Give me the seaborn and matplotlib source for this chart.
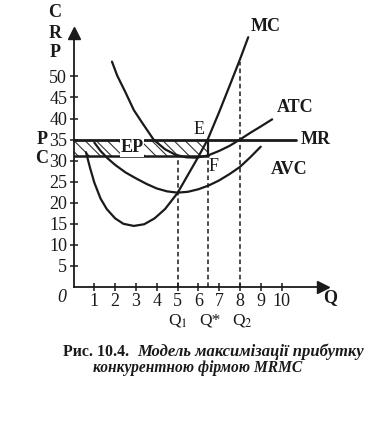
import matplotlib
matplotlib.use('Agg')
import matplotlib.pyplot as plt
import seaborn as sns
import pandas as pd
from matplotlib.patches import Rectangle

# ---- data ----
mc_q = [0.6, 0.8, 1.0, 1.3, 1.6, 2.0, 2.4, 2.9, 3.4, 3.9, 4.4, 5.0, 5.5, 6.0, 6.45, 7.0, 7.5, 8.0, 8.4]
mc_v = [32, 28.2, 24.8, 21, 18.5, 16.3, 15, 14.5, 14.9, 16.3, 18.5, 22.3, 26.6, 30.9, 35, 41.5, 47.7, 54, 59.3]
atc_q = [1.85, 2.1, 2.5, 2.9, 3.3, 3.85, 4.4, 4.9, 5.4, 5.9, 6.45, 7.0, 7.5, 8.0, 8.5, 9.0, 9.55]
atc_v = [53.5, 50.2, 46.2, 42, 39, 35, 32.7, 31.4, 30.8, 30.7, 31.2, 32.3, 33.5, 35, 36.6, 38.1, 39.8]
avc_q = [1.0, 1.3, 1.65, 2.0, 2.5, 3.0, 3.5, 4.0, 4.5, 5.0, 5.5, 6.0, 6.5, 7.0, 7.5, 8.0, 8.5, 9.0]
avc_v = [34.3, 32.3, 30.5, 29, 27.2, 25.8, 24.5, 23.4, 22.7, 22.4, 22.6, 23.2, 24.1, 25.3, 26.8, 28.5, 30.8, 33.3]
price = 35          # P = MR
cost = 31           # C = ATC at Q*
mr_end = 10.7
q1, q_star, q2 = 5, 6.45, 8
q2_top = 53.5
x_ticks = [1, 2, 3, 4, 5, 6, 7, 8, 9, 10]
y_ticks = [5, 10, 15, 20, 25, 30, 35, 40, 45, 50]

sns.set_theme(style='white')
plt.rcParams['font.family'] = ['Liberation Serif', 'DejaVu Serif']
plt.rcParams['mathtext.fontset'] = 'stix'
plt.rcParams['hatch.linewidth'] = 0.8
plt.rcParams['hatch.color'] = '#333333'

fig = plt.figure(figsize=(3.85, 4.21), dpi=100)
fig.patch.set_facecolor('white')
ax = fig.add_axes([73.5 / 385, 134 / 421, 249.6 / 385, 254 / 421])
ax.set_facecolor('white')
ax.set_xlim(0, 12)
ax.set_ylim(0, 60.3)

curves = pd.concat([
    pd.DataFrame({'Q': mc_q, 'V': mc_v, 'curve': 'MC'}),
    pd.DataFrame({'Q': atc_q, 'V': atc_v, 'curve': 'ATC'}),
    pd.DataFrame({'Q': avc_q, 'V': avc_v, 'curve': 'AVC'}),
])
sns.lineplot(data=curves, x='Q', y='V', units='curve', estimator=None,
             color='#1a1a1a', lw=1.6, ax=ax, legend=False, clip_on=False)

# profit rectangle
ax.add_patch(Rectangle((0, cost), q_star, price - cost, facecolor='none',
                       edgecolor='#333333', hatch='\\\\\\', lw=0))
ax.plot([0, mr_end], [price, price], color='#1a1a1a', lw=2.0, clip_on=False)
ax.plot([0, q_star], [cost, cost], color='#1a1a1a', lw=1.8)
ax.plot([q_star, q_star], [cost, price], color='#1a1a1a', lw=1.6)

# dashed verticals
for q, top in [(q1, cost), (q_star, cost), (q2, q2_top)]:
    ax.plot([q, q], [0, top], color='#1a1a1a', lw=1.1, ls=(0, (3, 2)))

# axes
for s in ['top', 'right']:
    ax.spines[s].set_visible(False)
for s in ['left', 'bottom']:
    ax.spines[s].set_color('#1a1a1a')
    ax.spines[s].set_linewidth(1.3)
ax.plot(1, 0, '>', color='#1a1a1a', ms=8, transform=ax.get_yaxis_transform(), clip_on=False)
ax.plot(0, 1, '^', color='#1a1a1a', ms=8, transform=ax.get_xaxis_transform(), clip_on=False)

ax.set_xticks(x_ticks)
ax.set_yticks(y_ticks)
ax.set_xticklabels([str(t) for t in x_ticks])
ax.set_yticklabels([str(t) for t in y_ticks])
ax.tick_params(direction='inout', length=6, width=1.1, colors='#1a1a1a',
               labelsize=13, pad=1.5, left=True, bottom=True)
ax.set_xlabel('')
ax.set_ylabel('')

txt = dict(color='#1a1a1a', ha='center', va='center', clip_on=False)
ax.text(-0.55, -2.4, '0', fontsize=13, style='italic', **txt)
for lab, y in [('C', 65.1), ('R', 60.3), ('P', 55.6)]:
    ax.text(-0.89, y, lab, fontsize=13, fontweight='bold', **txt)
ax.text(-1.52, price, 'P', fontsize=13, fontweight='bold', **txt)
ax.text(-1.52, 30.5, 'C', fontsize=13, fontweight='bold', **txt)
ax.text(12.33, -2.6, 'Q', fontsize=13, fontweight='bold', **txt)
ax.text(9.25, 61.8, 'MC', fontsize=13, fontweight='bold', **txt)
ax.text(10.65, 42.5, 'ATC', fontsize=13, fontweight='bold', **txt)
ax.text(11.66, 34.9, 'MR', fontsize=13, fontweight='bold', **txt)
ax.text(10.36, 27.8, 'AVC', fontsize=13, fontweight='bold', **txt)
ax.text(6.03, 37.4, 'E', fontsize=13, **txt)
ax.text(6.71, 28.5, 'F', fontsize=13, **txt)
ax.text(2.81, 33.0, 'EP', fontsize=13, fontweight='bold',
        bbox=dict(facecolor='white', edgecolor='none', pad=0.5), **txt)
ax.text(q1, -7.9, r'Q$_1$', fontsize=12.5, **txt)
ax.text(6.56, -7.9, 'Q*', fontsize=12.5, **txt)
ax.text(q2 + 0.1, -7.9, r'Q$_2$', fontsize=12.5, **txt)

# caption
fig.text(63 / 385, 1 - 352 / 421, 'Рис. 10.4.', fontsize=11.4, fontweight='bold',
         ha='left', va='center', color='#1a1a1a')
fig.text(137 / 385, 1 - 352 / 421, 'Модель максимізації прибутку', fontsize=12,
         fontweight='bold', style='italic', ha='left', va='center', color='#1a1a1a')
fig.text(198 / 385, 1 - 368 / 421, 'конкурентною фірмою MRMC', fontsize=11.2,
         fontweight='bold', style='italic', ha='center', va='center', color='#1a1a1a')

fig.savefig('out.png', dpi=100, facecolor='white')
